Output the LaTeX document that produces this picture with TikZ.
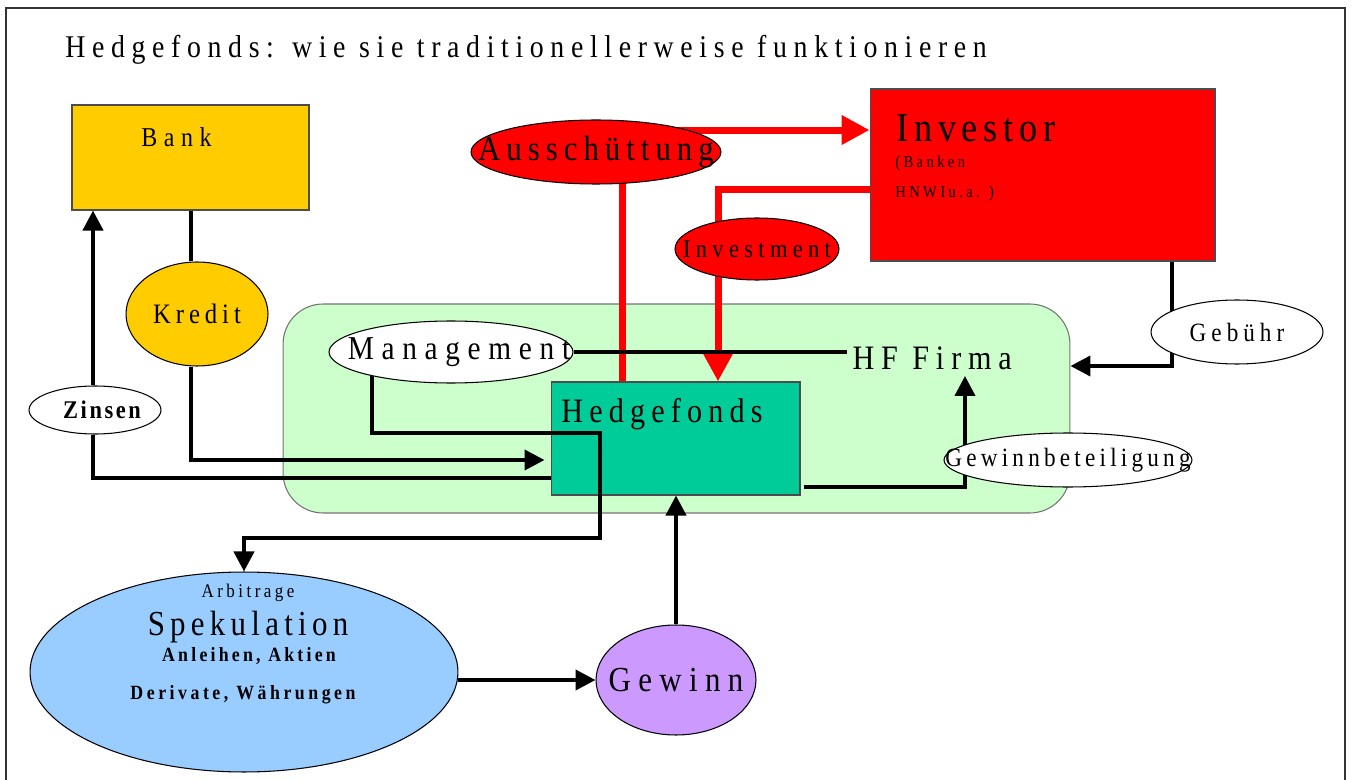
\documentclass[tikz,border=0pt]{standalone}
\usepackage{fontspec}
\setmainfont{Liberation Serif}[FakeStretch=0.88]
\usetikzlibrary{arrows.meta,shapes.geometric,positioning}

\definecolor{bankgelb}{HTML}{FFCC00}
\definecolor{invrot}{HTML}{FF0000}
\definecolor{hfgruen}{HTML}{00CC99}
\definecolor{firmagruen}{HTML}{CCFFCC}
\definecolor{spekblau}{HTML}{99CCFF}
\definecolor{gewinnlila}{HTML}{CC99FF}

% size, letter spacing
\newcommand\ft[2]{\fontsize{#1}{#1}\selectfont\addfontfeature{LetterSpace=#2}}

\pgfdeclarelayer{bg}
\pgfdeclarelayer{wires}
\pgfsetlayers{bg,wires,main}

\tikzset{
  box/.style={draw=black!70, line width=0.6pt, inner sep=0pt},
  oval/.style={ellipse, draw=black, line width=0.6pt, inner sep=0pt},
  txt/.style={inner sep=0pt, anchor=base west},
  conn/.style={line width=0.08cm, black},
  flow/.style={line width=0.14cm, invrot},
  pfeil/.style={-{Triangle[length=0.4cm,width=0.4cm]}},
  rotpfeil/.style={-{Triangle[length=0.56cm,width=0.56cm]}},
}

\begin{document}
\begin{tikzpicture}[x=0.02cm, y=-0.02cm]
  \useasboundingbox (0,0) rectangle (1352,780);

  %% ---- Frame and title ----
  \draw[line width=0.6pt, black!80] (6,780) -- (6,8) -- (1345,8) -- (1345,780);
  \node[txt] (titel) at (65,57.5)
    {\ft{18}{21}Hedgefonds: wie sie traditionellerweise funktionieren};

  %% ---- HF Firma area and Hedgefonds box (bottom layer) ----
  \begin{pgfonlayer}{bg}
    \node[box, draw=black!55, fill=firmagruen, rounded corners=0.8cm,
          minimum width=15.74cm, minimum height=4.18cm] (firma) at (676.5,408.5) {};
    \node[box, fill=hfgruen, minimum width=4.98cm, minimum height=2.26cm]
      (hedge) at (675.5,438.5) {};
    \node[txt] (hedgetxt) at (561,422) {\ft{19.5}{18}Hedgefonds};
  \end{pgfonlayer}
  \node[txt, inner sep=3pt] (hffirma) at (847,370) {\ft{19.5}{20}HF Firma};

  %% ---- Bank ----
  \node[box, fill=bankgelb, minimum width=4.74cm, minimum height=2.1cm]
    (bank) at (190.5,157.5) {};
  \node[txt] (banktxt) at (141,147) {\ft{15.5}{24}Bank};

  %% ---- Investor ----
  \node[box, fill=invrot, minimum width=6.9cm, minimum height=3.44cm]
    (inv) at (1042.5,175) {};
  \node[txt] (invtxt) at (896,142) {\ft{23.4}{14}Investor};
  \node[txt] (invsub1) at (895,168) {\ft{9.5}{20}(Banken};
  \node[txt] (invsub2) at (895,198) {\ft{9.5}{20}HNWIu.a. )};

  %% ---- Ovals ----
  \node[oval, fill=bankgelb, minimum width=2.84cm, minimum height=2.08cm,
        label={[font={\ft{16}{17.5}}]center:Kredit}] (kredit) at (197,314) {};
  \node[oval, fill=white, minimum width=2.64cm, minimum height=0.96cm,
        label={[font={\bfseries\ft{14.5}{10}}, xshift=0.14cm]center:Zinsen}]
    (zinsen) at (95,410) {};
  \node[oval, fill=white, minimum width=4.88cm, minimum height=1.24cm,
        label={[font={\ft{19}{23}}, xshift=0.16cm]center:Management}]
    (mgmt) at (451,352) {};
  \node[oval, fill=invrot, minimum width=5cm, minimum height=1.28cm,
        label={[font={\ft{20}{17}}]center:Ausschüttung}] (aus) at (596,152) {};
  \node[oval, fill=invrot, minimum width=3.28cm, minimum height=1.24cm,
        label={[font={\ft{14.5}{21}}]center:Investment}] (invest) at (757,249) {};
  \node[oval, fill=white, minimum width=3.44cm, minimum height=1.28cm,
        label={[font={\ft{15}{19}}]center:Gebühr}] (gebuehr) at (1237,332) {};
  \node[oval, fill=white, minimum width=4.96cm, minimum height=1.08cm,
        label={[font={\ft{15}{16}}]center:Gewinnbeteiligung}] (gewb) at (1068,460) {};
  \node[oval, fill=gewinnlila, minimum width=3.2cm, minimum height=2.2cm,
        label={[font={\ft{20}{21}}]center:Gewinn}] (gewinn) at (676,680) {};

  %% ---- Spekulation ----
  \node[oval, fill=spekblau, minimum width=8.56cm, minimum height=4cm]
    (spek) at (244,672) {};
  \node[anchor=base, inner sep=0pt] (arbi) at (248,597) {\ft{11}{18}Arbitrage};
  \node[anchor=base, inner sep=0pt] (spektxt) at (248,635) {\ft{20}{15}Spekulation};
  \node[anchor=base, inner sep=0pt] (anleihen) at (249,661)
    {\bfseries\ft{11.5}{16}Anleihen, Aktien};
  \node[anchor=base, inner sep=0pt] (derivate) at (243,699)
    {\bfseries\ft{11.5}{17.5}Derivate, Währungen};

  %% ---- Connectors (under the ovals) ----
  \begin{pgfonlayer}{wires}
    % red money flows
    \draw[flow] ([xshift=-1.07cm]hedge.north) -- ([xshift=-1.07cm]hedge.north |- aus.center);
    \draw[flow, rotpfeil] ([yshift=0.44cm]aus.center) -- ([yshift=0.44cm]aus.center -| inv.west);
    \draw[flow, rotpfeil] ([yshift=-0.3cm]inv.west) -| ([xshift=0.85cm]hedge.north);

    % Bank side
    \draw[conn] ([xshift=-0.13cm]kredit.north) -- ([xshift=-0.13cm]kredit.north |- bank.south);
    \draw[conn, pfeil] ([xshift=-0.13cm]kredit.south) |- ([shift={(-0.12cm,-0.43cm)}]hedge.west);
    \draw[conn] ([yshift=-0.79cm]hedge.west) -| ([xshift=-0.04cm]zinsen.south);
    \draw[conn, pfeil] ([xshift=-0.04cm]zinsen.north) -- ([xshift=-0.04cm]zinsen.north |- bank.south);

    % Management
    \draw[conn] (mgmt.east) -- (mgmt.east -| hffirma.west);
    \coordinate (knick1) at (600,433);
    \coordinate (knick2) at (600,538);
    \draw[conn, pfeil] ([xshift=0.16cm]mgmt.south west) |- (knick1) -- (knick2) -| (spek.north);

    % fees and profit share
    \draw[conn, pfeil] ([xshift=2.59cm]inv.south) |- ([yshift=0.85cm]firma.east);
    \draw[conn, pfeil] ([shift={(0.06cm,-0.97cm)}]hedge.east) -| ([xshift=2.36cm]hffirma.south west);

    % profit cycle
    \draw[conn, pfeil] (spek.east |- gewinn.west) -- (gewinn.west);
    \draw[conn, pfeil] (gewinn.north) -- (gewinn.north |- hedge.south);
  \end{pgfonlayer}

\end{tikzpicture}
\end{document}
